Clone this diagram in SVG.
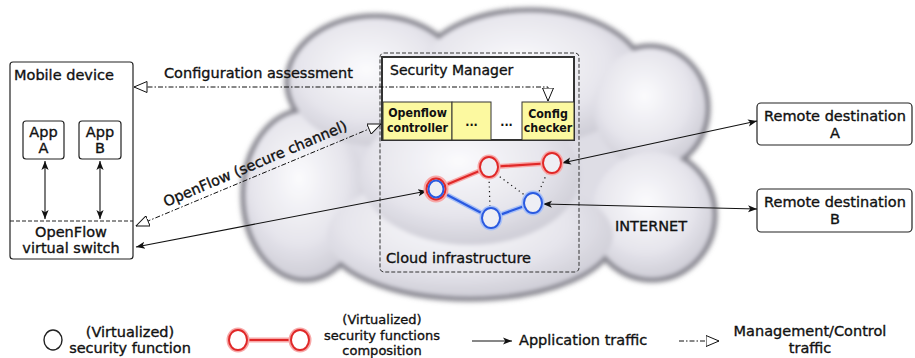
<svg xmlns="http://www.w3.org/2000/svg" width="915" height="358" viewBox="0 0 915 358">
<style>
text{font-family:"DejaVu Sans","Liberation Sans",sans-serif;font-size:14.5px;fill:#111;stroke:#111;stroke-width:0.35}
.c{text-anchor:middle}
.lg{font-size:13px}
.cell{font-family:"DejaVu Sans Condensed","DejaVu Sans",sans-serif;font-weight:bold;font-size:12.3px;text-anchor:middle;stroke-width:0}
.box{fill:#fff;stroke:#222;stroke-width:1.2}
.app{stroke:#111;stroke-width:1.1;fill:none}
.mgmt{stroke:#111;stroke-width:1;fill:none;stroke-dasharray:5,2,1.5,2}
.dot{stroke:#111;stroke-width:1.2;fill:none;stroke-dasharray:1.2,3.5}
.red{stroke:#e02828;stroke-width:2.2;fill:none}
.blue{stroke:#2a5ae0;stroke-width:2.2;fill:none}
.rn{stroke:#e02828;stroke-width:2;fill:#eeeef4}
.bn{stroke:#2a5ae0;stroke-width:2;fill:#eeeef4}
.rglow{stroke:#f7a8a8;stroke-width:5;fill:none}
.bglow{stroke:#a8c0f7;stroke-width:5;fill:none}
.yc{fill:#fcf9a0;stroke:#333;stroke-width:1}
</style>
<defs>
<marker id="arr" viewBox="0 0 10 10" refX="10" refY="5" markerWidth="9" markerHeight="9" markerUnits="userSpaceOnUse" orient="auto-start-reverse"><path d="M0,1 L10,5 L0,9 L2.5,5 z" fill="#111"/></marker>
<marker id="tri" viewBox="0 0 14 12" refX="13.5" refY="6" markerWidth="14" markerHeight="12" markerUnits="userSpaceOnUse" orient="auto-start-reverse"><path d="M0.5,0.5 L13.5,6 L0.5,11.5 z" fill="#fff" stroke="#111" stroke-width="1"/></marker>
<radialGradient id="lobe" cx="0.45" cy="0.4" r="0.6">
<stop offset="0" stop-color="#fbfbfd"/>
<stop offset="0.65" stop-color="#e6e5ec"/>
<stop offset="1" stop-color="#cfced7"/>
</radialGradient>
<filter id="blur3" x="-20%" y="-20%" width="140%" height="140%"><feGaussianBlur stdDeviation="2.5"/></filter>
<filter id="blur2" x="-20%" y="-20%" width="140%" height="140%"><feGaussianBlur stdDeviation="2"/></filter>
</defs>

<g id="cloud">
<g filter="url(#blur3)" fill="#84838c" stroke="#84838c" stroke-width="5">
<ellipse cx="305" cy="195" rx="62" ry="85"/>
<ellipse cx="375" cy="82" rx="88" ry="66"/>
<ellipse cx="530" cy="78" rx="115" ry="68"/>
<ellipse cx="650" cy="108" rx="58" ry="62"/>
<ellipse cx="652" cy="215" rx="63" ry="65"/>
<ellipse cx="470" cy="235" rx="145" ry="64"/>
<ellipse cx="480" cy="170" rx="150" ry="100"/>
</g>
<g filter="url(#blur2)">
<ellipse cx="480" cy="170" rx="150" ry="100" fill="#dedde5"/>
<g fill="url(#lobe)">
<ellipse cx="305" cy="195" rx="60" ry="83"/>
<ellipse cx="375" cy="82" rx="86" ry="64"/>
<ellipse cx="530" cy="78" rx="113" ry="66"/>
<ellipse cx="650" cy="108" rx="56" ry="60"/>
<ellipse cx="652" cy="215" rx="61" ry="63"/>
<ellipse cx="470" cy="235" rx="143" ry="62"/>
<ellipse cx="470" cy="175" rx="110" ry="70"/>
</g>
</g>
<text x="615" y="231">INTERNET</text>
</g>

<g id="mobile-device">
<rect class="box" x="10" y="62" width="123" height="197" rx="3"/>
<line x1="10" y1="221" x2="133" y2="221" stroke="#222" stroke-width="1" stroke-dasharray="4,2"/>
<text x="14" y="80">Mobile device</text>
</g>
<g id="app-a">
<rect class="box" x="23" y="121" width="41" height="38" rx="3"/>
<text class="c" x="43.5" y="137">App</text>
<text class="c" x="43.5" y="153">A</text>
</g>
<g id="app-b">
<rect class="box" x="79" y="121" width="42" height="38" rx="3"/>
<text class="c" x="100" y="137">App</text>
<text class="c" x="100" y="153">B</text>
</g>
<g id="openflow-switch">
<text class="c" x="71" y="237">OpenFlow</text>
<text class="c" x="71" y="253">virtual switch</text>
</g>

<g id="cloud-infrastructure">
<rect x="380" y="53" width="199" height="219" rx="4" fill="none" stroke="#333" stroke-width="1" stroke-dasharray="4,2"/>
<text x="386" y="263">Cloud infrastructure</text>
</g>
<g id="security-manager">
<rect x="382" y="57" width="192" height="83" fill="#fff" stroke="#333" stroke-width="2"/>
<text x="390" y="75" style="font-size:14px">Security Manager</text>
</g>
<g id="openflow-controller">
<rect class="yc" x="383" y="102" width="69" height="38"/>
<text class="cell" x="417.5" y="117">Openflow</text>
<text class="cell" x="417.5" y="132">controller</text>
</g>
<g id="cell-dots1">
<rect class="yc" x="452" y="102" width="39" height="38"/>
<text class="cell" x="471.5" y="126">...</text>
</g>
<g id="cell-dots2">
<text class="cell" x="506.5" y="126">...</text>
</g>
<g id="config-checker">
<rect class="yc" x="522" y="102" width="52" height="38"/>
<text class="cell" x="548" y="118">Config</text>
<text class="cell" x="548" y="132">checker</text>
</g>

<g id="remote-a">
<rect class="box" x="757" y="103" width="155" height="42" rx="4"/>
<text class="c" x="835" y="121">Remote destination</text>
<text class="c" x="835" y="138">A</text>
</g>
<g id="remote-b">
<rect class="box" x="757" y="189" width="155" height="43" rx="4"/>
<text class="c" x="835" y="207">Remote destination</text>
<text class="c" x="835" y="224">B</text>
</g>

<g id="connectors">
<path class="mgmt" d="M548,101 L548,87 L134,87" marker-start="url(#tri)" marker-end="url(#tri)"/>
<text x="164" y="78">Configuration assessment</text>
<path class="mgmt" d="M136,226 L381,124" marker-start="url(#tri)" marker-end="url(#tri)"/>
<text transform="translate(166,207) rotate(-23)">OpenFlow (secure channel)</text>
<path class="app" d="M45,161 L45,219" marker-start="url(#arr)" marker-end="url(#arr)"/>
<path class="app" d="M100,161 L100,219" marker-start="url(#arr)" marker-end="url(#arr)"/>
<path class="app" d="M136,247 L427,191" marker-start="url(#arr)" marker-end="url(#arr)"/>
<path class="app" d="M562,163 L757,121" marker-start="url(#arr)" marker-end="url(#arr)"/>
<path class="app" d="M543,204 L757,209" marker-start="url(#arr)" marker-end="url(#arr)"/>
<path class="dot" d="M489,177 L490,208"/>
<path class="dot" d="M496,174 L526,196"/>
<path class="dot" d="M547,173 L538,194"/>
<path class="rglow" d="M436,189 L489,167 L552,163"/>
<path class="red" d="M436,189 L489,167 L552,163"/>
<path class="bglow" d="M436,189 L491,218 L533,203"/>
<path class="blue" d="M436,189 L491,218 L533,203"/>
</g>

<g id="node-left">
<ellipse cx="436" cy="189" rx="10" ry="11" class="rglow"/>
<ellipse cx="436" cy="189" rx="9.5" ry="10.5" class="rn"/>
<ellipse cx="436" cy="189" rx="7.5" ry="8.5" class="bn"/>
</g>
<g id="node-top-mid">
<ellipse cx="489" cy="167" rx="9" ry="10" class="rglow"/>
<ellipse cx="489" cy="167" rx="9" ry="10" class="rn"/>
</g>
<g id="node-top-right">
<ellipse cx="552" cy="163" rx="9" ry="10" class="rglow"/>
<ellipse cx="552" cy="163" rx="9" ry="10" class="rn"/>
</g>
<g id="node-bottom-mid">
<ellipse cx="491" cy="218" rx="9" ry="10" class="bglow"/>
<ellipse cx="491" cy="218" rx="9" ry="10" class="bn"/>
</g>
<g id="node-bottom-right">
<ellipse cx="533" cy="203" rx="9" ry="10" class="bglow"/>
<ellipse cx="533" cy="203" rx="9" ry="10" class="bn"/>
</g>

<g id="legend">
<ellipse cx="53" cy="340" rx="9" ry="10" fill="#fff" stroke="#222" stroke-width="1.4"/>
<text class="c" x="130" y="337">(Virtualized)</text>
<text class="c" x="130" y="353">security function</text>
<line x1="247" y1="340" x2="291" y2="340" class="rglow"/>
<line x1="247" y1="340" x2="291" y2="340" class="red"/>
<ellipse cx="238" cy="340" rx="9" ry="10" class="rglow"/>
<ellipse cx="238" cy="340" rx="9" ry="10" stroke="#e02828" stroke-width="2" fill="#fff"/>
<ellipse cx="300" cy="340" rx="9" ry="10" class="rglow"/>
<ellipse cx="300" cy="340" rx="9" ry="10" stroke="#e02828" stroke-width="2" fill="#fff"/>
<text class="c lg" x="382" y="324">(Virtualized)</text>
<text class="c lg" x="382" y="339.5">security functions</text>
<text class="c lg" x="382" y="355">composition</text>
<path class="app" d="M472,341 L512,341" marker-end="url(#arr)"/>
<text x="519" y="345">Application traffic</text>
<path class="mgmt" d="M679,341 L719,341" marker-end="url(#tri)"/>
<text class="c" x="810" y="336">Management/Control</text>
<text class="c" x="810" y="353">traffic</text>
</g>
</svg>
